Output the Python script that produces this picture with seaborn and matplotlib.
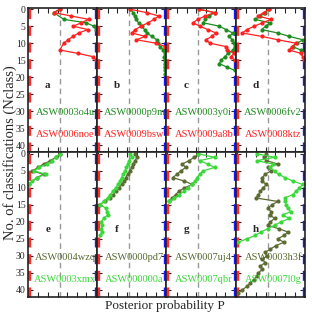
import matplotlib
matplotlib.use("Agg")
import matplotlib.pyplot as plt
import numpy as np
import seaborn as sns

# panel letters and sample names
letters = ["a", "b", "c", "d", "e", "f", "g", "h"]
names_top = ["ASW0003o4u", "ASW0000p9m", "ASW0003y0i", "ASW0006fv2",
             "ASW0004wzq", "ASW0000pd7", "ASW0007uj4", "ASW0003h3f"]
names_bot = ["ASW0006noe", "ASW0009bsw", "ASW0009a8b", "ASW0008ktz",
             "ASW0003xmx", "ASW000000a", "ASW0007qbr", "ASW0007l0g"]

# first series (green / olive) : posterior P and Nclass
s1_p = [
    [0.46, 0.37, 0.52, 0.85, 0.97, 1.0],
    [0.48, 0.52, 0.55, 0.56, 0.60, 0.65, 0.69, 0.72, 0.80, 0.87, 0.89, 0.92,
     0.97, 0.99, 0.98, 0.99, 0.99, 1.0, 0.99, 1.0],
    [0.47, 0.70, 0.62, 0.56, 0.53, 0.77, 0.87, 0.97, 0.92, 0.96, 0.99, 1.0,
     0.98, 0.90, 0.85, 0.80, 0.77, 0.88, 1.0],
    [0.48, 0.42, 0.35, 0.27, 0.49, 0.43, 0.37, 0.61, 0.78, 0.98, 0.90, 0.83, 0.95],
    [0.47, 0.40, 0.32, 0.22, 0.14, 0.05, 0.22, 0.12, 0.0],
    [0.55, 0.58, 0.55, 0.52, 0.50, 0.47, 0.44, 0.41, 0.39, 0.35, 0.31, 0.27,
     0.22, 0.17, 0.10, 0.02],
    [0.46, 0.40, 0.32, 0.22, 0.27, 0.20, 0.14, 0.08, 0.25, 0.37, 0.25, 0.17,
     0.12, 0.07, 0.02],
    [0.44, 0.40, 0.44, 0.61, 0.46, 0.51, 0.42, 0.38, 0.37, 0.44, 0.39, 0.35,
     0.32, 0.29, 0.61, 0.52, 0.46, 0.51, 0.50, 0.56, 0.50, 0.46, 0.62, 0.76,
     0.70, 0.61, 0.70, 0.58, 0.50, 0.42, 0.45, 0.38, 0.42, 0.35, 0.38, 0.32,
     0.30, 0.25, 0.20, 0.15, 0.08, 0.02],
]
s1_n = [
    [0, 1, 3, 4, 5, 6],
    list(range(20)),
    list(range(19)),
    list(range(13)),
    [0, 1, 2, 3, 4, 5, 6, 7, 9],
    list(range(16)),
    list(range(15)),
    list(range(42)),
]

# second series (red / light green)
s2_p = [
    [0.47, 0.37, 0.63, 0.89, 0.78, 0.66, 0.88, 0.74, 0.66, 0.58, 0.52, 0.46,
     0.73, 0.96, 1.0],
    [0.47, 0.72, 0.90, 0.83, 0.74, 0.64, 0.55, 0.50, 0.70, 0.57, 0.86, 1.0],
    [0.47, 0.70, 0.56, 0.45, 0.38, 0.48, 0.60, 0.72, 0.66, 0.57, 0.63, 0.87,
     0.89, 0.99, 0.94, 1.0],
    [0.48, 0.40, 0.31, 0.51, 0.38, 0.26, 0.15, 0.08, 0.37, 0.61, 0.88, 0.82,
     0.78, 0.95, 0.98, 1.0],
    [0.47, 0.40, 0.35, 0.27, 0.15, 0.08, 0.25, 0.12, 0.05, 0.0],
    [0.48, 0.50, 0.46, 0.44, 0.42, 0.40, 0.37, 0.35, 0.32, 0.30, 0.26, 0.22,
     0.18, 0.14, 0.08, 0.03, 0.12, 0.13, 0.14, 0.08, 0.05, 0.06, 0.05, 0.06, 0.03],
    [0.46, 0.70, 0.48, 0.60, 0.70, 0.53, 0.48, 0.44, 0.41, 0.36, 0.30, 0.25,
     0.17, 0.10, 0.02],
    [0.30, 0.56, 0.30, 0.54, 0.49, 0.56, 0.62, 0.72, 0.83, 0.98, 0.93, 0.88,
     0.83, 0.71, 0.72, 0.73, 0.76, 0.80, 0.68, 0.78, 0.66, 0.56, 0.46, 0.36,
     0.27, 0.15, 0.02],
]
s2_n = [
    [0, 1, 2, 3, 4, 5, 6, 7, 8, 9, 10, 12, 13, 14, 15],
    list(range(12)),
    list(range(16)),
    list(range(16)),
    list(range(10)),
    list(range(25)),
    list(range(15)),
    list(range(27)),
]

col1 = ["#1e8c1e"] * 4 + ["#5b6b32"] * 4
col2 = ["#ff2020"] * 4 + ["#3ad83a"] * 4

sns.set_style("ticks")
plt.rcParams["font.family"] = ["Liberation Serif", "DejaVu Serif"]

fig, axes = plt.subplots(2, 4, figsize=(3.12, 3.19), dpi=100)
plt.subplots_adjust(left=0.089, right=0.978, top=0.976, bottom=0.069,
                    wspace=0, hspace=0)

for i, ax in enumerate(axes.flat):
    ax.axvline(0, color="#ff2a2a", lw=2.4, ls=(0, (3, 2)), zorder=1)
    ax.axvline(1, color="#1a1aff", lw=2.4, ls=(0, (3, 2)), zorder=1)
    ax.axvline(0.46, color="#999999", lw=1.0, ls=(0, (4, 3)), zorder=1)
    sns.lineplot(x=s1_p[i], y=s1_n[i], sort=False, estimator=None, marker="o",
                 markersize=3, markeredgewidth=0, color=col1[i], lw=0.9, ax=ax)
    sns.lineplot(x=s2_p[i], y=s2_n[i], sort=False, estimator=None, marker="o",
                 markersize=3, markeredgewidth=0, color=col2[i], lw=0.9, ax=ax)
    ax.set_xlim(-0.015, 1.015)
    ax.set_ylim(42.1, -0.45)
    ax.set_xticks(np.arange(0, 1.01, 1 / 7))
    ax.set_xticklabels([])
    ax.set_yticks(np.arange(0, 41, 5))
    ax.tick_params(direction="in", length=3.5, width=0.8, top=True, right=True,
                   labelsize=7, pad=1.5)
    if i % 4 != 0:
        ax.set_yticklabels([])
    for sp in ax.spines.values():
        sp.set_color("#222222")
        sp.set_linewidth(1.2)
    ax.text(0.28, 22.3, letters[i], fontsize=8, fontweight="bold",
            ha="center", va="center")
    ax.text(0.54, 30.5, names_top[i], fontsize=7.5, color=col1[i],
            ha="center", va="center")
    ax.text(0.54, 37.0, names_bot[i], fontsize=7.5, color=col2[i],
            ha="center", va="center")
    ax.set_xlabel("")
    ax.set_ylabel("")

fig.text(0.53, 0.04, "Posterior probability P", ha="center", va="center",
         fontsize=9.5)
fig.text(0.032, 0.52, "No. of classifications (Nclass)", rotation=90,
         ha="center", va="center", fontsize=10.5)

fig.savefig("out.png", dpi=100)
